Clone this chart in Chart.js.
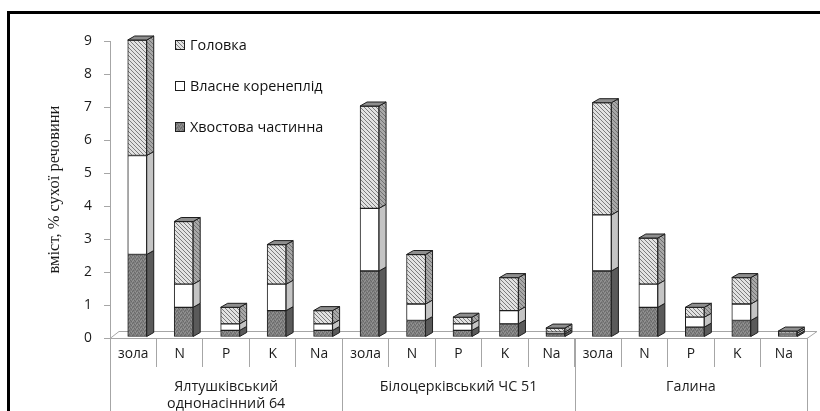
<!DOCTYPE html>
<html><head><meta charset="utf-8">
<script src="https://cdn.jsdelivr.net/npm/chart.js@4.4.1/dist/chart.umd.min.js"></script>
<style>html,body{margin:0;padding:0;background:#fff;overflow:hidden}</style>
</head><body>
<canvas id="c" width="820" height="411"></canvas>
<script>
// ---- data ----
const groupNames = [["Ялтушківський", "однонасінний 64"], ["Білоцерківський ЧС 51"], ["Галина"]];
const elementNames = ["зола", "N", "P", "K", "Na"];
const categories = [].concat(elementNames, elementNames, elementNames);
const seriesNames = ["Хвостова частинна", "Власне коренеплід", "Головка"];
const tailValues = [2.5, 0.9, 0.2, 0.8, 0.2, 2.0, 0.5, 0.2, 0.4, 0.1, 2.0, 0.9, 0.3, 0.5, 0.06];
const rootValues = [3.0, 0.7, 0.2, 0.8, 0.2, 1.9, 0.5, 0.2, 0.4, 0.05, 1.7, 0.7, 0.3, 0.5, 0.06];
const headValues = [3.5, 1.9, 0.5, 1.2, 0.4, 3.1, 1.5, 0.2, 1.0, 0.12, 3.4, 1.4, 0.3, 0.8, 0.06];
const yTickValues = [0, 1, 2, 3, 4, 5, 6, 7, 8, 9];
const yTitle = "вміст, % сухої речовини";

// ---- styles ----
const canvas = document.getElementById('c');
const ctx = canvas.getContext('2d');
function makePattern(bg, draw, size) {
  const c = document.createElement('canvas');
  c.width = size; c.height = size;
  const g = c.getContext('2d');
  g.fillStyle = bg; g.fillRect(0, 0, size, size);
  draw(g, size);
  return ctx.createPattern(c, 'repeat');
}
const headPattern = makePattern('#e2e2e2', (g, s) => { g.fillStyle = '#7c7c7c'; for (let i = 0; i < s; i++) g.fillRect(i, i, 1, 1); }, 4);
const headSidePattern = makePattern('#a8a8a8', (g, s) => { g.fillStyle = '#707070'; for (let i = 0; i < s; i++) g.fillRect(i, i, 1, 1); }, 4);
const tailPattern = makePattern('#808080', (g) => {
  g.fillStyle = '#6a6a6a'; g.fillRect(0, 0, 1, 1); g.fillRect(2, 1, 1, 1); g.fillRect(1, 3, 1, 1); g.fillRect(3, 2, 1, 1);
  g.fillStyle = '#959595'; g.fillRect(1, 1, 1, 1); g.fillRect(3, 0, 1, 1); g.fillRect(0, 2, 1, 1);
}, 4);
const fronts = [tailPattern, '#ffffff', headPattern];
const sides = ['#5a5a5a', '#c4c4c4', headSidePattern];
const tops = ['#6e6e6e', '#d8d8d8', '#8e8e8e'];
const depthX = 7, depthY = 4, shiftX = 4;
const lineCol = '#a6a6a6';
const sansFont = '"Open Sans", Lato, sans-serif';

const valueSets = [tailValues, rootValues, headValues];
const datasets = valueSets.map((vals, i) => ({
  label: seriesNames[i], data: vals,
  backgroundColor: fronts[i], borderColor: '#1e1e1e', borderWidth: 1, borderSkipped: false,
  barThickness: 19, clip: false
}));

const plugin3d = {
  id: 'threeD',
  beforeDraw(chart) {
    const c = chart.ctx;
    c.save(); c.fillStyle = '#fff'; c.fillRect(0, 0, chart.width, chart.height); c.restore();
  },
  beforeDatasetsDraw(chart) {
    const c = chart.ctx, a = chart.chartArea;
    c.save();
    c.strokeStyle = lineCol; c.lineWidth = 1;
    c.beginPath();
    c.moveTo(a.left, a.bottom + 0.5); c.lineTo(a.left + 9, a.bottom - 6.5);
    c.lineTo(a.right + 10, a.bottom - 6.5); c.lineTo(a.right, a.bottom + 0.5);
    c.stroke();
    c.restore();
    c.save();
    c.translate(shiftX, -1);
  },
  afterDatasetsDraw(chart) {
    const c = chart.ctx;
    const n = chart.data.labels.length;
    const metas = chart.data.datasets.map((d, i) => chart.getDatasetMeta(i));
    c.lineWidth = 1; c.strokeStyle = '#1e1e1e'; c.lineJoin = 'miter';
    for (let k = 0; k < n; k++) {
      let topIdx = -1;
      metas.forEach((m, d) => { if (chart.data.datasets[d].data[k] > 0) topIdx = d; });
      metas.forEach((m, d) => {
        const el = m.data[k];
        const w = el.width, x0 = el.x - w / 2, x1 = el.x + w / 2;
        const yT = el.y, yB = el.base;
        c.beginPath();
        c.moveTo(x1, yT); c.lineTo(x1 + depthX, yT - depthY); c.lineTo(x1 + depthX, yB - depthY); c.lineTo(x1, yB); c.closePath();
        c.fillStyle = sides[d]; c.fill(); c.stroke();
        if (d === topIdx) {
          c.beginPath();
          c.moveTo(x0, yT); c.lineTo(x0 + depthX, yT - depthY); c.lineTo(x1 + depthX, yT - depthY); c.lineTo(x1, yT); c.closePath();
          c.fillStyle = tops[d]; c.fill(); c.stroke();
        }
      });
    }
    c.restore();
  },
  afterDraw(chart) {
    const c = chart.ctx, a = chart.chartArea, xs = chart.scales.x;
    const catW = (xs.right - xs.left) / categories.length;
    c.save();
    c.strokeStyle = lineCol; c.lineWidth = 1;
    for (let g = 0; g <= groupNames.length; g++) {
      const px = Math.round(xs.left + g * elementNames.length * catW) + 0.5;
      c.beginPath(); c.moveTo(px, a.bottom); c.lineTo(px, chart.height); c.stroke();
    }
    c.fillStyle = '#1a1a1a'; c.font = '14.3px ' + sansFont; c.textAlign = 'center'; c.textBaseline = 'middle';
    groupNames.forEach((lines, g) => {
      const cx = xs.left + (g + 0.5) * elementNames.length * catW;
      lines.forEach((t, j) => c.fillText(t, cx, 387 + j * 17));
    });
    const legendItems = [2, 1, 0];
    legendItems.forEach((d, j) => {
      const y = 45 + j * 41;
      c.fillStyle = fronts[d];
      c.fillRect(175.5, y - 4.5, 9, 9);
      c.strokeStyle = '#1e1e1e'; c.lineWidth = 1;
      c.strokeRect(175.5, y - 4.5, 9, 9);
      c.fillStyle = '#111'; c.font = '14.4px ' + sansFont; c.textAlign = 'left'; c.textBaseline = 'middle';
      c.fillText(seriesNames[d], 190, y + 1);
    });
    c.strokeStyle = '#000'; c.lineWidth = 3;
    c.strokeRect(8.5, 12.5, 900, 500);
    c.restore();
  }
};

new Chart(ctx, {
  type: 'bar',
  data: { labels: categories, datasets },
  options: {
    responsive: false, animation: false, devicePixelRatio: 1,
    layout: { padding: { left: 8, top: 41, right: 13, bottom: 0 } },
    plugins: { legend: { display: false }, tooltip: { enabled: false } },
    scales: {
      x: {
        stacked: true, offset: true,
        grid: { display: true, offset: true, drawOnChartArea: false, tickLength: 29, color: lineCol },
        border: { display: true, color: lineCol },
        ticks: { padding: -21, autoSkip: false, maxRotation: 0, color: '#1a1a1a', font: { family: sansFont, size: 13.8 } },
        afterFit(s) { s.height = 73; }
      },
      y: {
        stacked: true, min: yTickValues[0], max: yTickValues[yTickValues.length - 1],
        afterBuildTicks(s) { s.ticks = yTickValues.map(v => ({ value: v })); },
        grid: { drawOnChartArea: false, tickLength: 6, color: lineCol },
        border: { display: true, color: lineCol },
        ticks: { padding: 12, color: '#1a1a1a', font: { family: sansFont, size: 13.8 } },
        title: { display: true, text: yTitle, color: '#1a1a1a', font: { family: '"Liberation Serif", serif', size: 16.5 }, padding: { top: 37, bottom: 0 } },
        afterFit(s) { s.width = 102; }
      }
    }
  },
  plugins: [plugin3d]
});
</script>
</body></html>
